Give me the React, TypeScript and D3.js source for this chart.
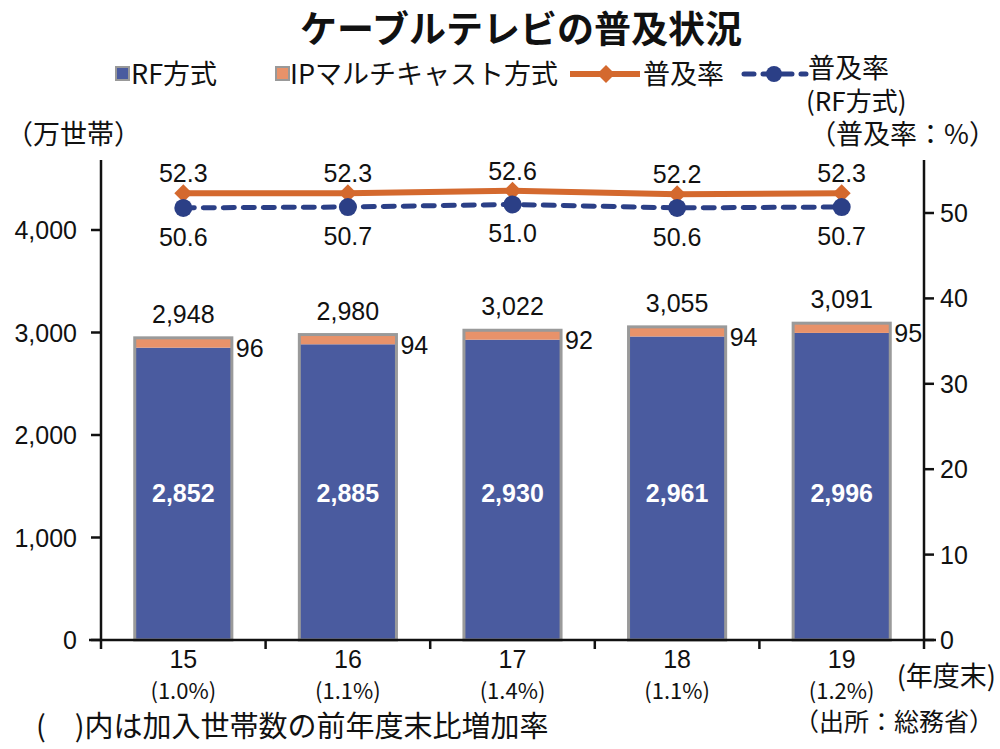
import React from "react";
import * as d3 from "d3";

const categories = ["15", "16", "17", "18", "19"];
const growth = ["(1.0%)", "(1.1%)", "(1.4%)", "(1.1%)", "(1.2%)"];
const rfValues = [2852, 2885, 2930, 2961, 2996];
const ipValues = [96, 94, 92, 94, 95];
const totals = [2948, 2980, 3022, 3055, 3091];
const rateAll = [52.3, 52.3, 52.6, 52.2, 52.3];
const rateRF = [50.6, 50.7, 51.0, 50.6, 50.7];
const leftTicks = [0, 1000, 2000, 3000, 4000];
const rightTicks = [0, 10, 20, 30, 40, 50];

const JP = "'Noto Sans CJK JP', 'Liberation Sans', sans-serif";
const NUM = "'Liberation Sans', Arial, sans-serif";

const BLUE = "#4a5b9f";
const ORANGE_BAR = "#e8926a";
const ORANGE_LINE = "#d4692e";
const NAVY = "#2b3f86";

export default function App() {
  const left = 101, right = 924, bottom = 640, top = 160;
  const x = d3.scaleBand<string>().domain(categories).range([left, right]).paddingInner(0.41).paddingOuter(0.205);
  const yL = d3.scaleLinear().domain([0, 4000]).range([bottom, 230]);
  const yR = d3.scaleLinear().domain([0, 50]).range([bottom, 213]);
  const bw = x.bandwidth();
  const step = x.step();
  const cx = (c: string) => (x(c) as number) + bw / 2;

  const lineAll = d3.line<number>().x((_, i) => cx(categories[i])).y((d) => yR(d));
  const lineRF = d3.line<number>().x((_, i) => cx(categories[i])).y((d) => yR(d));
  const fmt = d3.format(",");

  const diamond = (px: number, py: number, s: number) =>
    `M${px},${py - s}L${px + s},${py}L${px},${py + s}L${px - s},${py}Z`;

  return (
    <svg width={1000} height={749} style={{ position: "absolute", left: 0, top: 0, background: "#fff" }}>
      {/* Title */}
      <text x={521} y={43} textAnchor="middle" fontFamily={JP} fontWeight={700} fontSize={37} fill="#111">
        ケーブルテレビの普及状況
      </text>

      {/* Legend */}
      <g fontFamily={JP} fontSize={27} fill="#111">
        <rect x={116} y={67} width={13} height={13} fill={BLUE} stroke="#999" strokeWidth={2} />
        <text x={131} y={84}>RF方式</text>
        <rect x={276} y={67} width={13} height={13} fill={ORANGE_BAR} stroke="#999" strokeWidth={2} />
        <text x={290} y={84}>IPマルチキャスト方式</text>
        <line x1={570} y1={74} x2={640} y2={74} stroke={ORANGE_LINE} strokeWidth={6} />
        <path d={diamond(606, 74, 9)} fill={ORANGE_LINE} />
        <text x={643} y={84}>普及率</text>
        <line x1={744} y1={74} x2={806} y2={74} stroke={NAVY} strokeWidth={5} strokeDasharray="10,9" strokeLinecap="round" />
        <circle cx={774} cy={74} r={8} fill={NAVY} />
        <text x={808} y={78}>普及率</text>
        <text x={806} y={111} fontSize={26}>(RF方式)</text>
      </g>

      {/* Axis titles */}
      <text x={6} y={144} fontFamily={JP} fontSize={27} fill="#111">（万世帯）</text>
      <text x={996} y={144} textAnchor="end" fontFamily={JP} fontSize={27} fill="#111">（普及率：%）</text>

      {/* Bars */}
      {categories.map((c, i) => {
        const bx = x(c) as number;
        return (
          <g key={c}>
            <rect x={bx} y={yL(rfValues[i])} width={bw} height={yL(0) - yL(rfValues[i])} fill={BLUE} />
            <rect x={bx} y={yL(totals[i])} width={bw} height={yL(rfValues[i]) - yL(totals[i])} fill={ORANGE_BAR} />
            <rect x={bx} y={yL(totals[i])} width={bw} height={yL(0) - yL(totals[i])} fill="none" stroke="#9a9a9a" strokeWidth={3} />
            <text x={cx(c)} y={yL(totals[i]) - 15} textAnchor="middle" fontFamily={NUM} fontSize={25} fill="#111">
              {fmt(totals[i])}
            </text>
            <text x={bx + bw + 4} y={yL(totals[i]) + 19} fontFamily={NUM} fontSize={25} fill="#111">
              {ipValues[i]}
            </text>
            <text x={cx(c)} y={yL(1350)} textAnchor="middle" fontFamily={NUM} fontWeight={700} fontSize={25} fill="#fff">
              {fmt(rfValues[i])}
            </text>
          </g>
        );
      })}

      {/* Axes */}
      <g stroke="#111" strokeWidth={2.5}>
        <line x1={left} y1={top} x2={left} y2={bottom} />
        <line x1={right} y1={top} x2={right} y2={bottom} />
        <line x1={left - 12} y1={bottom} x2={right + 12} y2={bottom} />
        {leftTicks.map((t) => (
          <line key={"lt" + t} x1={left - 10} y1={yL(t)} x2={left} y2={yL(t)} />
        ))}
        {rightTicks.map((t) => (
          <line key={"rt" + t} x1={right} y1={yR(t)} x2={right + 10} y2={yR(t)} />
        ))}
        {d3.range(categories.length + 1).map((i) => (
          <line key={"xt" + i} x1={left + i * step} y1={bottom} x2={left + i * step} y2={bottom + 9} />
        ))}
      </g>
      <g fontFamily={NUM} fontSize={25} fill="#111">
        {leftTicks.map((t) => (
          <text key={"ll" + t} x={left - 24} y={yL(t) + 9} textAnchor="end">{fmt(t)}</text>
        ))}
        {rightTicks.map((t) => (
          <text key={"rl" + t} x={right + 16} y={yR(t) + 9}>{t}</text>
        ))}
        {categories.map((c, i) => (
          <g key={"xl" + c}>
            <text x={cx(c)} y={668} textAnchor="middle">{c}</text>
            <text x={cx(c)} y={699} textAnchor="middle" fontFamily={JP} fontSize={22}>{growth[i]}</text>
          </g>
        ))}
      </g>
      <text x={996} y={686} textAnchor="end" fontFamily={JP} fontSize={27} fill="#111">(年度末)</text>
      <text x={994} y={731} textAnchor="end" fontFamily={JP} fontSize={25} fill="#111">（出所：総務省）</text>
      <text x={36} y={737} fontFamily={JP} fontSize={29} fill="#111">(　)内は加入世帯数の前年度末比増加率</text>

      {/* Lines */}
      <path d={lineRF(rateRF) as string} fill="none" stroke={NAVY} strokeWidth={5} strokeDasharray="11,9" strokeLinecap="round" />
      <path d={lineAll(rateAll) as string} fill="none" stroke={ORANGE_LINE} strokeWidth={6} />
      {categories.map((c, i) => (
        <g key={"m" + c}>
          <path d={diamond(cx(c), yR(rateAll[i]), 9)} fill={ORANGE_LINE} />
          <circle cx={cx(c)} cy={yR(rateRF[i])} r={9} fill={NAVY} />
          <text x={cx(c)} y={yR(rateAll[i]) - 11} textAnchor="middle" fontFamily={NUM} fontSize={25} fill="#111">
            {rateAll[i].toFixed(1)}
          </text>
          <text x={cx(c)} y={yR(rateRF[i]) + 38} textAnchor="middle" fontFamily={NUM} fontSize={25} fill="#111">
            {rateRF[i].toFixed(1)}
          </text>
        </g>
      ))}
    </svg>
  );
}
